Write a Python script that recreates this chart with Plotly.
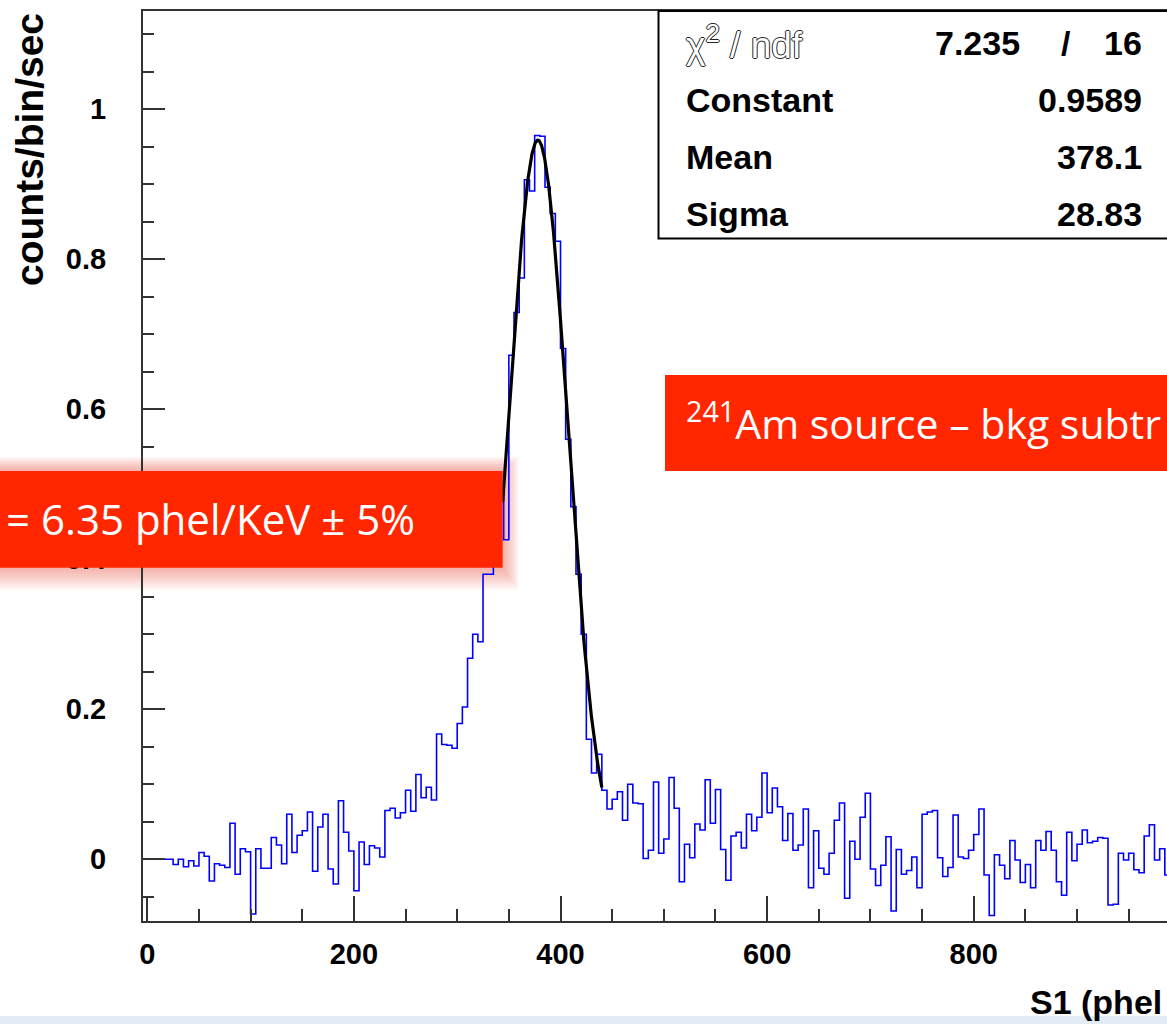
import numpy as np
import plotly.graph_objects as go

# ---------------- data ----------------
bin_start = 15
bin_width = 5
counts = [
    0.000, 0.000, -0.007, 0.000, -0.010, -0.002, -0.009, 0.009, 0.004, -0.029,   # 15-60
    -0.006, -0.008, -0.011, 0.048, -0.020, 0.014, 0.010, -0.073, 0.014, -0.012,  # 65-110
    -0.012, 0.029, 0.019, -0.006, 0.060, 0.009, 0.032, 0.038, 0.063, -0.016,     # 115-160
    0.043, 0.060, -0.013, -0.033, 0.078, 0.036, 0.011, -0.042, 0.023, -0.007,    # 165-210
    0.018, 0.015, 0.003, 0.065, 0.068, 0.055, 0.062, 0.092, 0.064, 0.113,        # 215-260
    0.082, 0.096, 0.079, 0.167, 0.153, 0.152, 0.148, 0.181, 0.203, 0.268,        # 265-310
    0.300, 0.290, 0.380, 0.380, 0.430, 0.500, 0.426, 0.672, 0.729, 0.775,        # 315-360
    0.906, 0.891, 0.965, 0.964, 0.896, 0.861, 0.824, 0.681, 0.560, 0.470,        # 365-410
    0.380, 0.300, 0.160, 0.115, 0.140, 0.092, 0.067, 0.080, 0.090, 0.052,        # 415-460
    0.100, 0.075, 0.074, 0.001, 0.012, 0.103, 0.008, 0.027, 0.109, 0.068,        # 465-510
    -0.030, 0.020, 0.002, 0.047, 0.039, 0.106, 0.048, 0.093, 0.013, -0.028,      # 515-560
    0.031, 0.036, 0.015, 0.060, 0.038, 0.056, 0.115, 0.062, 0.095, 0.070,        # 565-610
    0.025, 0.061, 0.012, 0.019, 0.067, -0.038, 0.038, -0.012, -0.020, 0.008,     # 615-660
    0.052, 0.075, -0.052, 0.024, 0.000, 0.056, 0.088, -0.013, -0.035, -0.008,    # 665-710
    0.030, -0.069, 0.013, -0.020, -0.015, 0.003, -0.038, 0.060, 0.063, 0.065,    # 715-760
    0.002, -0.023, -0.011, 0.059, 0.003, 0.001, 0.012, 0.033, 0.067, -0.021,     # 765-810
    -0.075, 0.006, -0.008, -0.026, 0.025, -0.001, -0.031, -0.007, -0.038, 0.025, # 815-860
    0.012, 0.037, 0.012, -0.030, -0.048, 0.036, -0.002, 0.020, 0.039, 0.022,     # 865-910
    0.024, 0.029, 0.028, -0.061, -0.060, 0.008, -0.001, 0.008, -0.014, -0.018,   # 915-960
    0.031, 0.046, -0.001, 0.014, -0.021, 0.000,                                  # 965-990
]

fit_constant = 0.9589
fit_mean = 378.1
fit_sigma = 28.83
fit_range = [344, 440]

chi2_value = "7.235"
ndf_value = "16"
stats_labels = ["Constant", "Mean", "Sigma"]
stats_values = ["0.9589", "378.1", "28.83"]

x_title = "S1 (phel"
y_title = "counts/bin/sec"
box1_text = "= 6.35 phel/KeV ± 5%"
box2_text = "<sup>241</sup>Am source – bkg subtr"

# ---------------- geometry ----------------
W, H = 1167, 1024
L, R, T, B = 143, 0, 11, 103
PW, PH = W - L - R, H - T - B


def fx(px):
    return (px - L) / PW


def fy(py):
    return (H - B - py) / PH


edges = [bin_start + i * bin_width for i in range(len(counts) + 1)]
hist_y = counts + [counts[-1]]

xf = np.linspace(fit_range[0], fit_range[1], 300)
yf = fit_constant * np.exp(-0.5 * ((xf - fit_mean) / fit_sigma) ** 2)

fig = go.Figure()
fig.add_trace(go.Scatter(x=edges, y=hist_y, mode="lines", line=dict(shape="hv", color="#0000ff", width=1.6),
                         hoverinfo="skip", showlegend=False))
fig.add_trace(go.Scatter(x=xf, y=yf, mode="lines", line=dict(color="black", width=3.2),
                         hoverinfo="skip", showlegend=False))

tickfont = dict(family="Liberation Sans, Arial", size=29, color="black", weight="bold")
axis_common = dict(showgrid=False, zeroline=False, showline=True, linecolor="#333333", linewidth=2,
                   ticks="inside", tickcolor="#333333", tickwidth=1.5, tickfont=tickfont)

fig.update_xaxes(**axis_common, range=[-4.16, 987.1], tickmode="linear", tick0=0, dtick=200, ticklen=25,
                 mirror=True, ticklabelstandoff=6,
                 minor=dict(ticks="inside", tick0=0, dtick=50, ticklen=12, tickwidth=1.5, tickcolor="#333333"))
fig.update_yaxes(**axis_common, range=[-0.0823, 1.1311], tickmode="linear", tick0=0, dtick=0.2, ticklen=22,
                 ticklabelstandoff=29,
                 minor=dict(ticks="inside", tick0=0, dtick=0.05, ticklen=11, tickwidth=1.5, tickcolor="#333333"))

shapes = []
annotations = []

# stats box
shapes.append(dict(type="rect", xref="paper", yref="paper", x0=fx(658.5), x1=fx(1200), y0=fy(238.5), y1=fy(11),
                   line=dict(color="black", width=2), fillcolor="white", layer="above"))
row_y = [43, 100, 157, 214]
statfont = dict(family="Liberation Sans, Arial", size=34, color="black", weight="bold")
annotations.append(dict(text="χ<sup>2</sup> / ndf", xref="paper", yref="paper", x=fx(684), y=fy(row_y[0]),
                        xanchor="left", yanchor="middle", showarrow=False,
                        font=dict(family="Liberation Sans, Arial", size=37, color="white",
                                  shadow="1px 0 0 #222, -1px 0 0 #222, 0 1px 0 #222, 0 -1px 0 #222")))
annotations.append(dict(text=chi2_value, xref="paper", yref="paper", x=fx(1022), y=fy(row_y[0]),
                        xanchor="right", yanchor="middle", showarrow=False, font=statfont))
annotations.append(dict(text="/", xref="paper", yref="paper", x=fx(1066), y=fy(row_y[0]),
                        xanchor="center", yanchor="middle", showarrow=False, font=statfont))
annotations.append(dict(text=ndf_value, xref="paper", yref="paper", x=fx(1144), y=fy(row_y[0]),
                        xanchor="right", yanchor="middle", showarrow=False, font=statfont))
for lab, val, ry in zip(stats_labels, stats_values, row_y[1:]):
    annotations.append(dict(text=lab, xref="paper", yref="paper", x=fx(684), y=fy(ry),
                            xanchor="left", yanchor="middle", showarrow=False, font=statfont))
    annotations.append(dict(text=val, xref="paper", yref="paper", x=fx(1144), y=fy(ry),
                            xanchor="right", yanchor="middle", showarrow=False, font=statfont))

# axis titles
annotations.append(dict(text=y_title, xref="paper", yref="paper", x=fx(29), y=fy(150), textangle=-90,
                        xanchor="center", yanchor="middle", showarrow=False,
                        font=dict(family="Liberation Sans, Arial", size=39, color="black", weight="bold")))
annotations.append(dict(text=x_title, xref="paper", yref="paper", x=fx(1028), y=fy(1002),
                        xanchor="left", yanchor="middle", showarrow=False,
                        font=dict(family="Liberation Sans, Arial", size=34, color="black", weight="bold")))

# red box 1 with soft glow (glow sits beneath the axes/traces)
for i in range(1, 11):
    d = 2 * i
    shapes.append(dict(type="rect", xref="paper", yref="paper", x0=fx(-30), x1=fx(502.7 + 0.8 * d),
                       y0=fy(567.7 + 1.1 * d), y1=fy(471 - 0.7 * d), line=dict(width=0),
                       fillcolor="rgba(235,95,75,0.055)", layer="below"))
shapes.append(dict(type="rect", xref="paper", yref="paper", x0=fx(-30), x1=fx(502.7), y0=fy(567.7), y1=fy(471),
                   line=dict(width=0), fillcolor="#ff2600", layer="above"))
redfont = dict(family="Open Sans, Noto Sans", size=42, color="white")
annotations.append(dict(text=box1_text, xref="paper", yref="paper", x=fx(4), y=fy(518),
                        xanchor="left", yanchor="middle", showarrow=False, font=redfont))

# red box 2
shapes.append(dict(type="rect", xref="paper", yref="paper", x0=fx(665), x1=fx(1200), y0=fy(471), y1=fy(375),
                   line=dict(width=0), fillcolor="#ff2600", layer="above"))
annotations.append(dict(text=box2_text, xref="paper", yref="paper", x=fx(684), y=fy(421),
                        xanchor="left", yanchor="middle", showarrow=False,
                        font=dict(family="Open Sans, Noto Sans", size=41, color="white")))

# light blue strip at bottom
shapes.append(dict(type="rect", xref="paper", yref="paper", x0=fx(0), x1=fx(1167), y0=fy(1024), y1=fy(1016),
                   line=dict(width=0), fillcolor="#e2ecf7", layer="above"))

fig.update_layout(width=W, height=H, margin=dict(l=L, r=R, t=T, b=B, pad=0),
                  paper_bgcolor="white", plot_bgcolor="rgba(0,0,0,0)", showlegend=False,
                  shapes=shapes, annotations=annotations)

fig.write_html("out.html")
